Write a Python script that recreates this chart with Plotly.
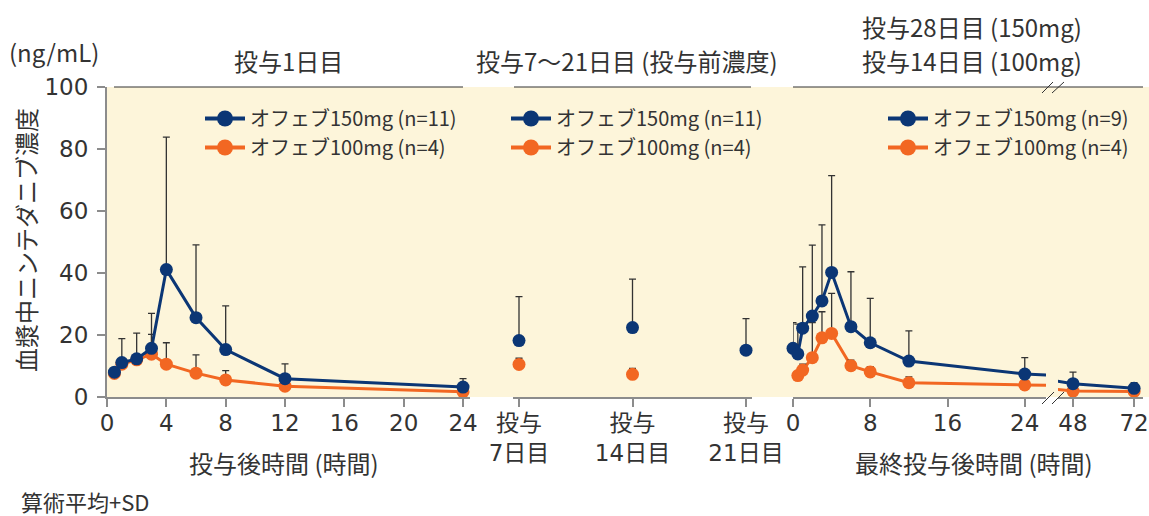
import plotly.graph_objects as go

# ---------------- data ----------------
# Panel 1: 投与1日目
p1_time = [0.5, 1, 2, 3, 4, 6, 8, 12, 24]
p1_150_mean = [8.0, 11.1, 12.3, 15.7, 41.1, 25.6, 15.3, 5.9, 3.2]
p1_150_sd = [1.2, 7.7, 8.3, 11.3, 42.7, 23.5, 14.1, 4.8, 2.7]
p1_100_mean = [7.6, 10.6, 12.0, 13.8, 10.6, 7.7, 5.5, 3.5, 1.7]
p1_100_sd = [0.8, 0.9, 1.2, 6.4, 6.9, 5.9, 3.0, 0.9, 0.5]

# Panel 2: 投与7〜21日目 (投与前濃度)
p2_150_days = [7, 14, 21]
p2_150_mean = [18.2, 22.4, 15.1]
p2_150_sd = [14.2, 15.6, 10.2]
p2_100_days = [7, 14]
p2_100_mean = [10.5, 7.3]
p2_100_sd = [2.0, 1.9]
p2_tickvals = [7, 14, 21]
p2_ticktext = ["投与<br>7日目", "投与<br>14日目", "投与<br>21日目"]

# Panel 3: 最終投与後
p3_150_time = [0, 0.5, 1, 2, 3, 4, 6, 8, 12, 24, 48, 72]
p3_150_mean = [15.7, 13.9, 22.2, 26.1, 31.0, 40.2, 22.7, 17.5, 11.6, 7.4, 4.3, 2.8]
p3_150_sd = [8.3, 9.6, 19.8, 22.9, 24.5, 31.2, 17.7, 14.3, 9.7, 5.3, 3.7, 1.8]
p3_100_time = [0.5, 1, 2, 3, 4, 6, 8, 12, 24, 48, 72]
p3_100_mean = [6.9, 8.7, 12.7, 19.1, 20.5, 10.1, 8.1, 4.6, 3.9, 1.9, 1.8]
p3_100_sd = [0.6, 1.9, 11.3, 8.4, 12.9, 1.8, 1.7, 1.9, 0.5, 0.4, 0.4]

p1_ticks = [0, 4, 8, 12, 16, 20, 24]
p3a_ticks = [0, 8, 16, 24]
p3b_ticks = [48, 72]
y_ticks = [0, 20, 40, 60, 80, 100]

legend1_names = ["オフェブ150mg (n=11)", "オフェブ100mg (n=4)"]
legend2_names = ["オフェブ150mg (n=11)", "オフェブ100mg (n=4)"]
legend3_names = ["オフェブ150mg (n=9)", "オフェブ100mg (n=4)"]

# ---------------- style ----------------
W, H = 1149, 516
BLUE = "#0b3675"
ORANGE = "#f26722"
BG = "#fdf5da"
TXT = "#333333"
AX = "#8c8c8c"
CJK = "Noto Sans CJK JP"
NUM = "DejaVu Sans, Noto Sans CJK JP"


def px(x):
    return x / W


def py(y):
    return 1 - y / H


fig = go.Figure()


def err(sd):
    return dict(type="data", symmetric=False, array=sd, arrayminus=[0] * len(sd),
                color="#333333", thickness=1.3, width=3.5)


def line_trace(x, y, color, xa):
    fig.add_trace(go.Scatter(x=x, y=y, mode="lines", xaxis=xa, yaxis="y",
                             line=dict(color=color, width=3), showlegend=False,
                             hoverinfo="skip"))


def marker_trace(x, y, sd, color, xa):
    fig.add_trace(go.Scatter(x=x, y=y, mode="markers", xaxis=xa, yaxis="y",
                             marker=dict(color=color, size=13), error_y=err(sd),
                             cliponaxis=False, showlegend=False))


# Panel 1
line_trace(p1_time, p1_100_mean, ORANGE, "x")
marker_trace(p1_time, p1_100_mean, p1_100_sd, ORANGE, "x")
line_trace(p1_time, p1_150_mean, BLUE, "x")
marker_trace(p1_time, p1_150_mean, p1_150_sd, BLUE, "x")

# Panel 2
marker_trace(p2_100_days, p2_100_mean, p2_100_sd, ORANGE, "x2")
marker_trace(p2_150_days, p2_150_mean, p2_150_sd, BLUE, "x2")


def split(t, m, s, cond):
    idx = [i for i, v in enumerate(t) if cond(v)]
    return [t[i] for i in idx], [m[i] for i in idx], [s[i] for i in idx]


# Panel 3 (broken axis: 0-24 part and 48-72 part)
for t, m, s, c in [(p3_100_time, p3_100_mean, p3_100_sd, ORANGE),
                   (p3_150_time, p3_150_mean, p3_150_sd, BLUE)]:
    line_trace(t, m, c, "x3")
    ta, ma, sa = split(t, m, s, lambda v: v <= 24)
    marker_trace(ta, ma, sa, c, "x3")
    tl, ml, _ = split(t, m, s, lambda v: v >= 24)
    line_trace(tl, ml, c, "x4")
    tb, mb, sb = split(t, m, s, lambda v: v >= 48)
    marker_trace(tb, mb, sb, c, "x4")

# legend-only traces
for names, lg in [(legend1_names, "legend"), (legend2_names, "legend2"),
                  (legend3_names, "legend3")]:
    for name, c in zip(names, [BLUE, ORANGE]):
        fig.add_trace(go.Scatter(x=[None], y=[None], mode="lines+markers", name=name,
                                 line=dict(color=c, width=4),
                                 marker=dict(color=c, size=16), legend=lg,
                                 xaxis="x", yaxis="y"))

ydom = [py(397), py(87)]
axis_common = dict(showline=True, linecolor=AX, linewidth=2, ticks="outside",
                   ticklen=8, tickwidth=1.5, tickcolor=AX, showgrid=False,
                   zeroline=False, anchor="y", automargin=False,
                   tickfont=dict(family=NUM, size=23, color=TXT),
                   ticklabelstandoff=-4)

legend_common = dict(bgcolor="rgba(0,0,0,0)", font=dict(family=CJK, size=20, color=TXT),
                     xanchor="left", yanchor="top", itemwidth=40,
                     tracegroupgap=0, itemclick=False)

fig.update_layout(
    width=W, height=H, margin=dict(l=0, r=0, t=0, b=0),
    paper_bgcolor="white", plot_bgcolor="rgba(0,0,0,0)",
    font=dict(family=CJK, color=TXT),
    xaxis=dict(domain=[px(107), px(470)], range=[0, 24.47], tickvals=p1_ticks, **axis_common),
    xaxis2=dict(domain=[px(513), px(752)], range=[6.63, 21.37], tickvals=p2_tickvals,
                ticktext=p2_ticktext, **axis_common),
    xaxis3=dict(domain=[px(793), px(1046)], range=[0, 26.2], tickvals=p3a_ticks, **axis_common),
    xaxis4=dict(domain=[px(1058), px(1143)], range=[42.1, 75.5], tickvals=p3b_ticks, **axis_common),
    yaxis=dict(domain=ydom, range=[0, 100], tickvals=y_ticks, anchor="x",
               showline=True, linecolor=AX, linewidth=2, ticks="outside", ticklen=8,
               tickwidth=1.5, tickcolor=AX, showgrid=False, zeroline=False,
               automargin=False, tickfont=dict(family=NUM, size=23, color=TXT),
               ticklabelstandoff=4),
    legend=dict(x=px(200), y=py(99), **legend_common),
    legend2=dict(x=px(506), y=py(99), **legend_common),
    legend3=dict(x=px(883), y=py(99), **legend_common),
    showlegend=True,
)

# background and frame lines
shapes = [
    dict(type="rect", xref="paper", yref="paper", x0=px(107), x1=1, y0=py(397), y1=py(87),
         fillcolor=BG, line=dict(width=0), layer="below"),
]
for a, b in [(114, 463), (514, 751), (793, 1143)]:
    shapes.append(dict(type="line", xref="paper", yref="paper", x0=px(a), x1=px(b),
                       y0=py(87), y1=py(87), line=dict(color="#333333", width=1.2)))
# break marks
for (x0, y0, x1, y1) in [(1042, 93, 1053, 82), (1052, 93, 1064, 82),
                         (1042, 404, 1054, 392), (1052, 404, 1064, 392)]:
    shapes.append(dict(type="line", xref="paper", yref="paper", x0=px(x0), y0=py(y0),
                       x1=px(x1), y1=py(y1), line=dict(color="#333333", width=1)))
fig.update_layout(shapes=shapes)


def ann(text, x, y, size, xanchor="center", textangle=0):
    fig.add_annotation(text=text, x=px(x), y=py(y), xref="paper", yref="paper",
                       showarrow=False, xanchor=xanchor, yanchor="middle",
                       textangle=textangle, font=dict(family=CJK, size=size, color=TXT))


ann("(ng/mL)", 54, 52, 24)
ann("投与1日目", 288, 61, 24)
ann("投与7〜21日目 (投与前濃度)", 627, 61, 24)
ann("投与28日目 (150mg)", 972, 27, 24)
ann("投与14日目 (100mg)", 972, 61, 24)
ann("投与後時間 (時間)", 284, 462, 24)
ann("最終投与後時間 (時間)", 974, 462, 24)
ann("算術平均+SD", 19, 501, 22, xanchor="left")
ann("血漿中ニンテダニブ濃度", 26, 240, 24, textangle=-90)

fig.write_html("out.html", post_script="document.body.style.margin='0';",
               config={"displayModeBar": False})
